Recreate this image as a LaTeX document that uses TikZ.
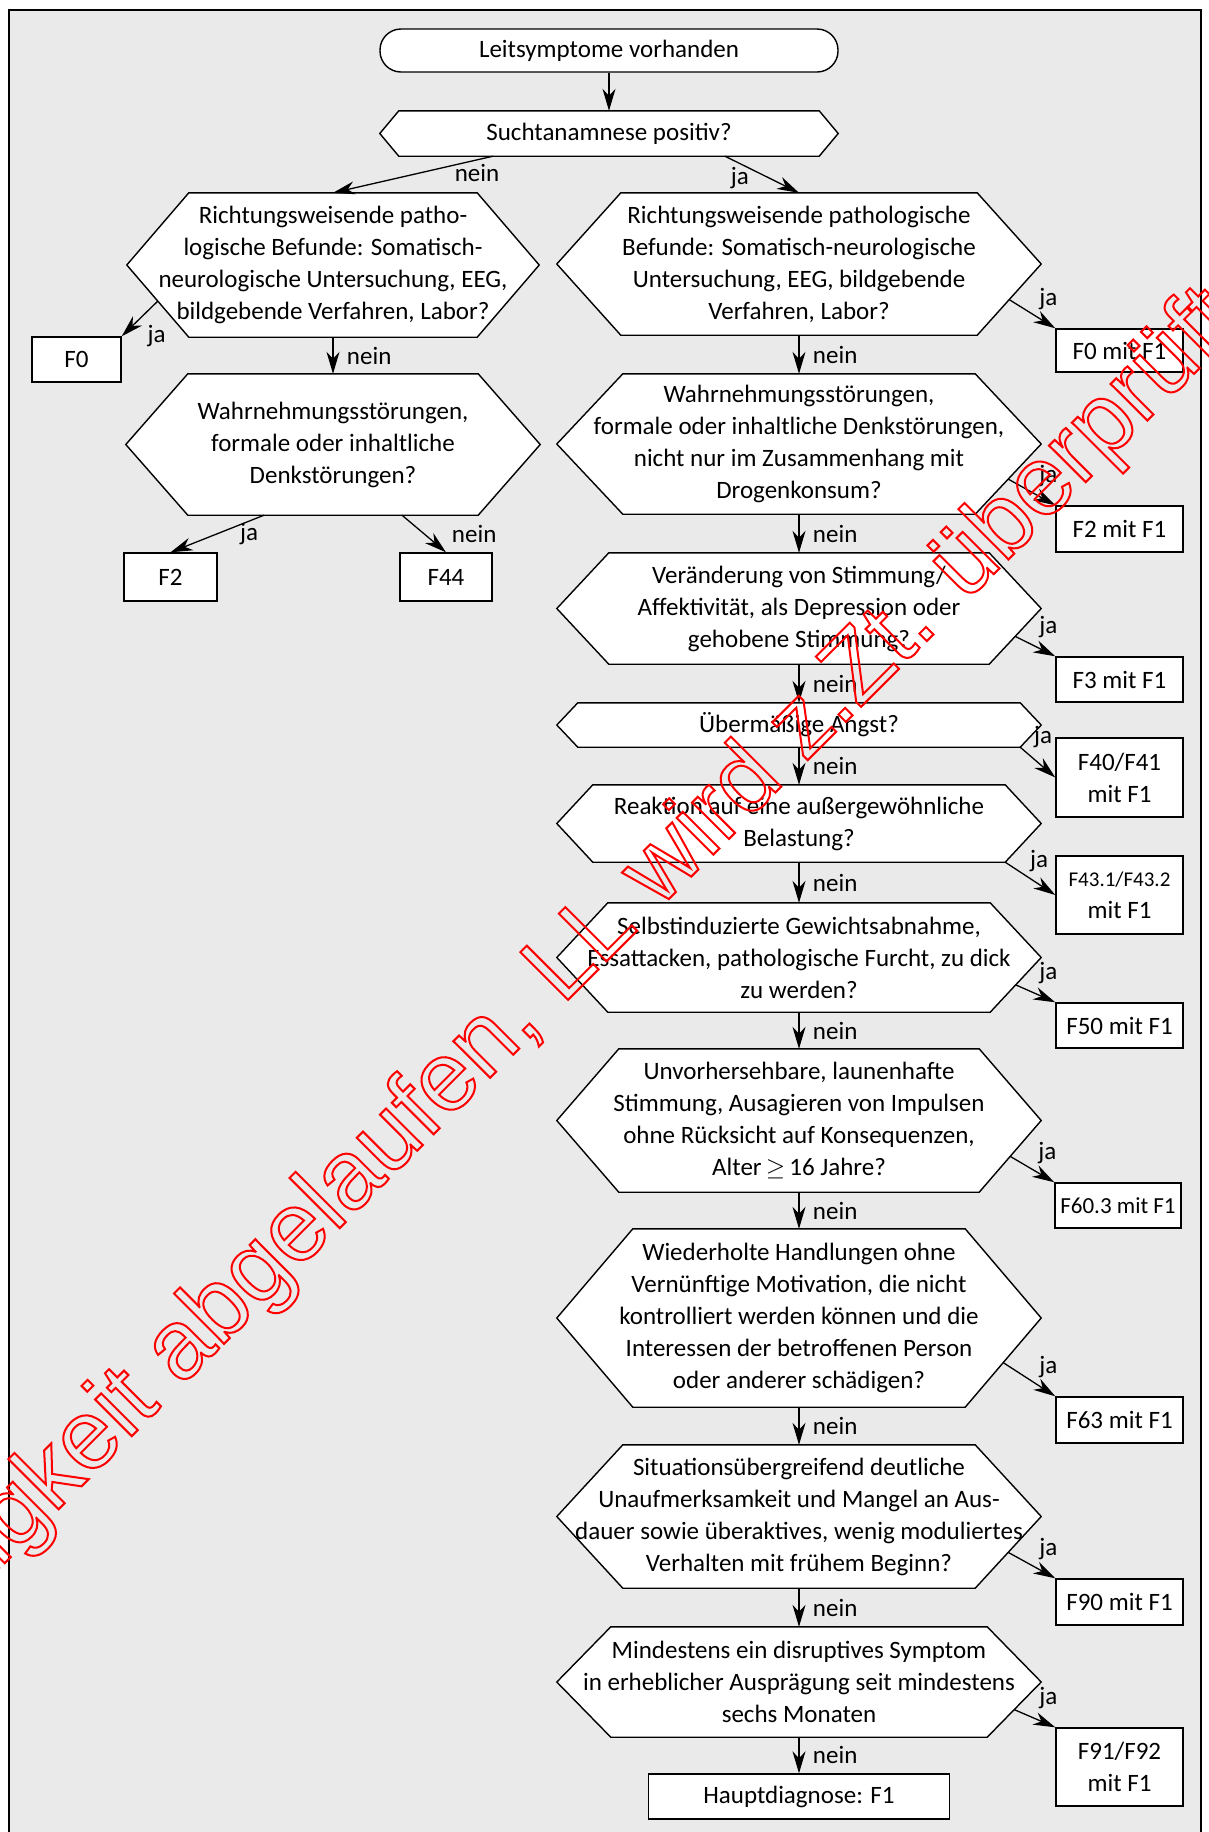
\documentclass[tikz,border=0pt]{standalone}
\usepackage{fontspec}
\setmainfont{Carlito}
\newfontfamily\wmfont{Liberation Sans}
\usetikzlibrary{arrows.meta,calc,positioning}
\pgfdeclarelayer{bg}
\pgfsetlayers{bg,main}
\definecolor{bggray}{RGB}{234,234,234}
\tikzset{
  arr/.style={-{Stealth[length=22pt,width=13pt,inset=7pt]}, line width=1.3pt},
  frage/.style={align=center, inner sep=0pt},
  diag/.style={draw, line width=1.4pt, fill=white, align=center, inner sep=0pt},
  hexline/.style={draw, line width=1.4pt, fill=white},
  jalab/.style={above, xshift=-7pt, yshift=15pt},
}
% hexagon round a question node: #1 name, #2 depth of the points
\newcommand{\hexa}[2]{%
  \draw[hexline] (#1.west) -- ([xshift=#2]#1.north west) -- ([xshift=-#2]#1.north east)
    -- (#1.east) -- ([xshift=-#2]#1.south east) -- ([xshift=#2]#1.south west) -- cycle;
  \coordinate (#1 lr) at ($(#1.east)!0.5!([xshift=-#2]#1.south east)$);
  \coordinate (#1 ll) at ($(#1.west)!0.5!([xshift=#2]#1.south west)$);
  \coordinate (#1 br) at ([xshift=-#2]#1.south east);
}
\begin{document}
\begin{tikzpicture}[x=1pt, y=-1pt, font={\fontsize{25}{32}\selectfont}]
\useasboundingbox (0,0) rectangle (1208,1832);

% top
\node[diag, rounded corners=21pt, minimum width=458pt, minimum height=43pt] (start) at (609,50.5) {Leitsymptome vorhanden};
\node[frage, minimum width=458pt, minimum height=45pt] (sucht) at (609,133.5) {Suchtanamnese positiv?};

% left column
\node[frage, minimum width=412pt, minimum height=144pt] (l1) at (333,265) {Richtungsweisende patho-\\logische Befunde: Somatisch-\\neurologische Untersuchung, EEG,\\bildgebende Verfahren, Labor?};
\node[frage, minimum width=414pt, minimum height=141pt] (l2) at (333,444.5) {Wahrnehmungsstörungen,\\formale oder inhaltliche\\Denkstörungen?};
\node[diag, minimum width=89pt, minimum height=45pt] (f0) at (76.5,359.5) {F0};
\node[diag, minimum width=93pt, minimum height=48pt] (f2) at (170.5,577) {F2};
\node[diag, minimum width=92pt, minimum height=48pt] (f44) at (446,577) {F44};

% right column
\node[frage, minimum width=484pt, minimum height=142pt] (r1) at (799,264) {Richtungsweisende pathologische\\Befunde: Somatisch-neurologische\\Untersuchung, EEG, bildgebende\\Verfahren, Labor?};
\node[frage, minimum width=484pt, minimum height=140pt] (r2) at (799,444) {Wahrnehmungsstörungen,\\formale oder inhaltliche Denkstörungen,\\nicht nur im Zusammenhang mit\\Drogenkonsum?};
\node[frage, minimum width=484pt, minimum height=111pt] (r3) at (799,608.5) {Veränderung von Stimmung/\\Affektivität, als Depression oder\\gehobene Stimmung?};
\node[frage, minimum width=484pt, minimum height=44pt] (r4) at (799,725) {Übermäßige Angst?};
\node[frage, minimum width=484pt, minimum height=77pt] (r5) at (799,823.5) {Reaktion auf eine außergewöhnliche\\Belastung?};
\node[frage, minimum width=484pt, minimum height=109pt] (r6) at (799,957.5) {Selbstinduzierte Gewichtsabnahme,\\Essattacken, pathologische Furcht, zu dick\\zu werden?};
\node[frage, minimum width=484pt, minimum height=143pt] (r7) at (799,1120.5) {Unvorhersehbare, launenhafte\\Stimmung, Ausagieren von Impulsen\\ohne Rücksicht auf Konsequenzen,\\Alter\,$\geq$\,16 Jahre?};
\node[frage, minimum width=484pt, minimum height=178pt] (r8) at (799,1318) {Wiederholte Handlungen ohne\\Vernünftige Motivation, die nicht\\kontrolliert werden können und die\\Interessen der betroffenen Person\\oder anderer schädigen?};
\node[frage, minimum width=484pt, minimum height=143pt] (r9) at (799,1516.5) {Situationsübergreifend deutliche\\Unaufmerksamkeit und Mangel an Aus-\\dauer sowie überaktives, wenig moduliertes\\Verhalten mit frühem Beginn?};
\node[frage, minimum width=484pt, minimum height=110pt] (r10) at (799,1682) {Mindestens ein disruptives Symptom\\in erheblicher Ausprägung seit mindestens\\sechs Monaten};
\node[diag, minimum width=301pt, minimum height=45pt] (haupt) at (799,1796.5) {Hauptdiagnose: F1};

% results on the right
\node[diag, minimum width=127pt, minimum height=43pt] (f0m) at (1119.5,350.5) {F0 mit F1};
\node[diag, minimum width=127pt, minimum height=46pt] (f2m) at (1119.5,529) {F2 mit F1};
\node[diag, minimum width=127pt, minimum height=45pt] (f3m) at (1119.5,679.5) {F3 mit F1};
\node[diag, minimum width=127pt, minimum height=79pt] (f40m) at (1119.5,777.5) {F40/F41\\mit F1};
\node[diag, minimum width=127pt, minimum height=78pt] (f43m) at (1119.5,895) {{\fontsize{21}{32}\selectfont F43.1/F43.2}\\mit F1};
\node[diag, minimum width=127pt, minimum height=45pt] (f50m) at (1119.5,1025.5) {F50 mit F1};
\node[diag, minimum width=126pt, minimum height=45pt, font={\fontsize{23}{32}\selectfont}] (f60m) at (1118,1205.5) {F60.3 mit F1};
\node[diag, minimum width=127pt, minimum height=46pt] (f63m) at (1119.5,1420) {F63 mit F1};
\node[diag, minimum width=127pt, minimum height=46pt] (f90m) at (1119.5,1602) {F90 mit F1};
\node[diag, minimum width=127pt, minimum height=78pt] (f91m) at (1119.5,1767) {F91/F92\\mit F1};

\begin{pgfonlayer}{bg}
  \draw[line width=1.6pt, fill=bggray] (9,10) rectangle (1201,1850);
  \foreach \n/\d in {sucht/19, l1/62, l2/62, r1/64, r2/66, r3/52, r4/21, r5/36, r6/51, r7/62, r8/76, r9/66, r10/54}
    {\hexa{\n}{\d}}
\end{pgfonlayer}

% connectors
\draw[arr] (start.south) -- (sucht.north);
\draw[arr] ([xshift=-116pt]sucht.south) -- (l1.north) node[pos=0.1, below] {nein};
\draw[arr] ([xshift=116pt]sucht.south) -- (r1.north) node[pos=0.2, below] {ja};

\draw[arr] (l1 ll) -- (f0.north east) node[right=22pt] {ja};
\draw[arr] (l1.south) -- (l2.north) node[midway, right=10pt] {nein};
\draw[arr] ([xshift=-69pt]l2.south) -- (f2.north) node[pos=0.5, right=19pt] {ja};
\draw[arr] ([xshift=69pt]l2.south) -- (f44.north) node[pos=0.5, right=24pt] {nein};

\foreach \a/\b in {r1/r2, r2/r3, r3/r4, r4/r5, r5/r6, r6/r7, r7/r8, r8/r9, r9/r10, r10/haupt}
  \draw[arr] (\a.south) -- (\b.north) node[midway, right=10pt] {nein};

\draw[arr] (r1 lr) -- (f0m.north west) node[jalab] {ja};
\draw[arr] (r2 lr) -- (f2m.north west) node[jalab] {ja};
\draw[arr] (r3 lr) -- (f3m.north west) node[jalab] {ja};
\draw[arr] (r4 br) -- (f40m.west) node[pos=0, xshift=23pt, yshift=10pt] {ja};
\draw[arr] (r5 br) -- (f43m.west) node[pos=0, xshift=34pt, yshift=1pt] {ja};
\draw[arr] (r6 lr) -- (f50m.north west) node[jalab] {ja};
\draw[arr] (r7 lr) -- (f60m.north west) node[jalab] {ja};
\draw[arr] (r8 lr) -- (f63m.north west) node[jalab] {ja};
\draw[arr] (r9 lr) -- (f90m.north west) node[jalab] {ja};
\draw[arr] (r10 lr) -- (f91m.north west) node[jalab] {ja};

% stamp across the page
\node[text=red, rotate=45, font={\wmfont\fontsize{98}{98}\selectfont}] (stamp) at (540,992)
  {\special{pdf:literal direct 1 Tr 2 w}Gültigkeit abgelaufen, LL wird z.Zt. überprüft\special{pdf:literal direct 0 Tr}};
\end{tikzpicture}
\end{document}
